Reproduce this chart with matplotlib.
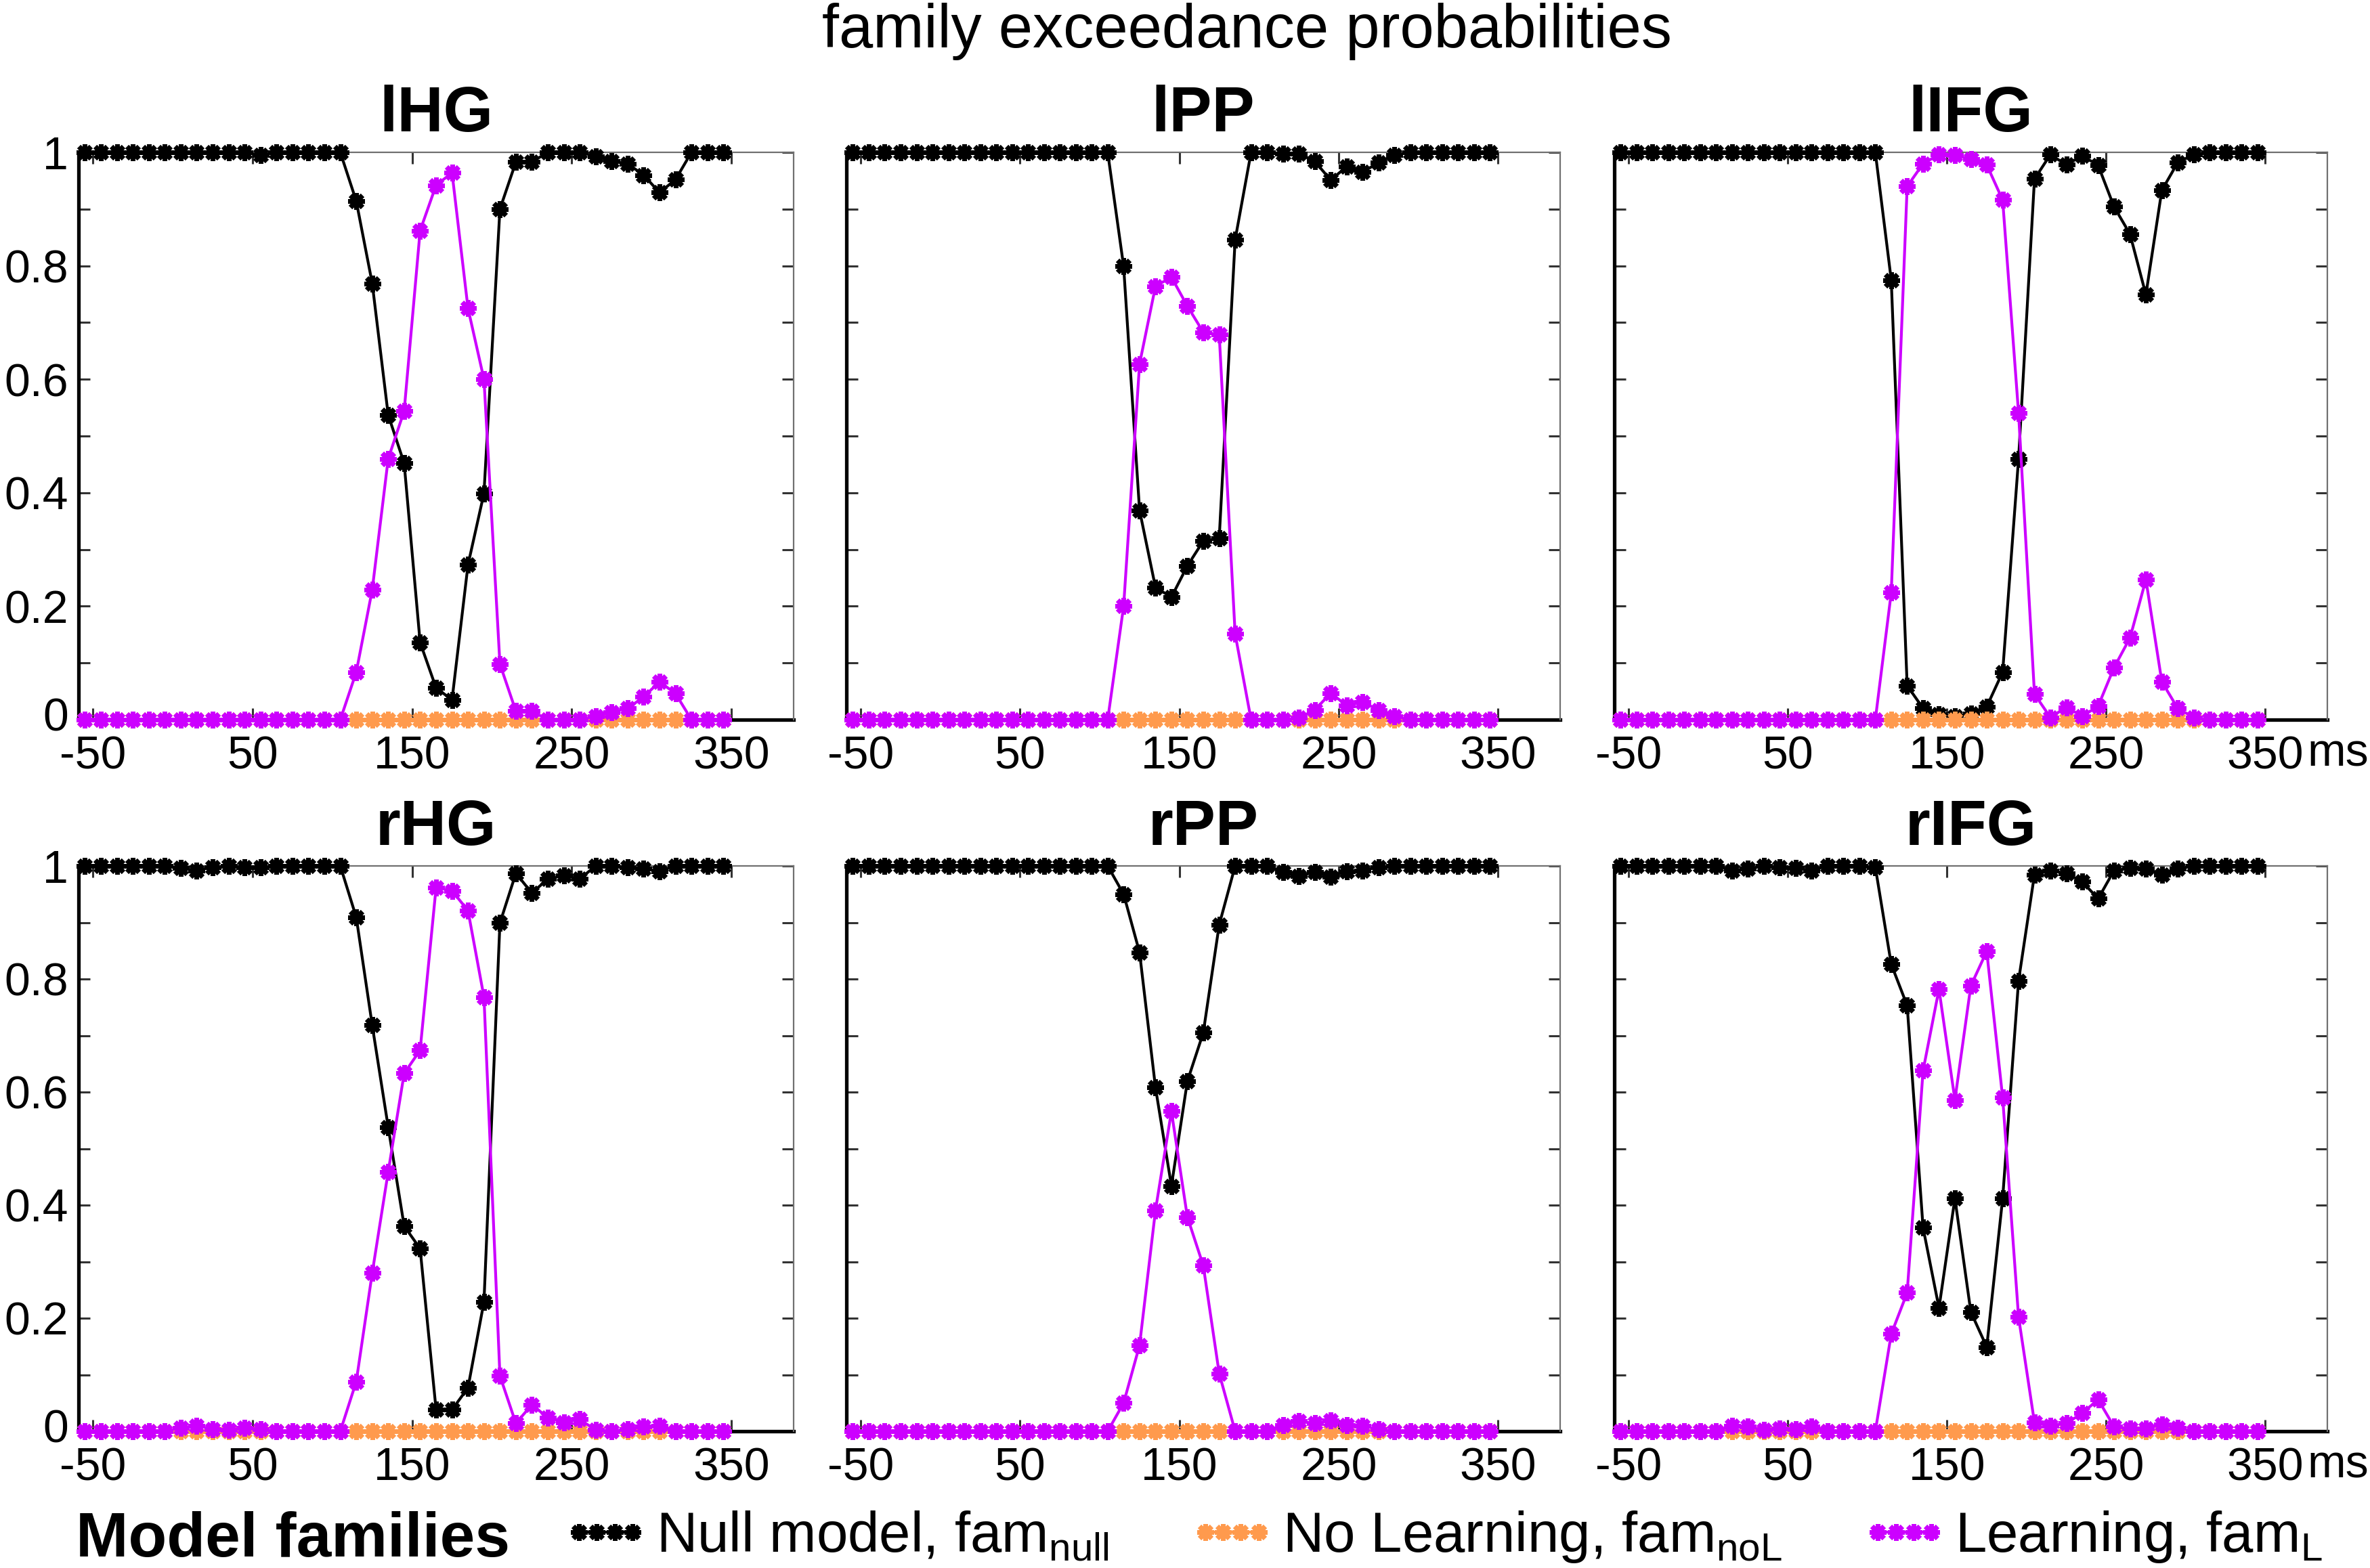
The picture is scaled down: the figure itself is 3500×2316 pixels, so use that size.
import matplotlib
matplotlib.use('Agg')
import matplotlib.pyplot as plt
from matplotlib.lines import Line2D
from matplotlib.transforms import ScaledTranslation

plt.rcParams['font.family'] = ['Liberation Sans', 'DejaVu Sans']
plt.rcParams['mathtext.fontset'] = 'custom'
plt.rcParams['mathtext.rm'] = 'Liberation Sans'
plt.rcParams['mathtext.it'] = 'Liberation Sans:italic'
plt.rcParams['mathtext.bf'] = 'Liberation Sans:bold'

# ---------------- data ----------------
time_ms = [-55, -45, -35, -25, -15, -5, 5, 15, 25, 35, 45, 55, 65, 75, 85, 95,
           105, 115, 125, 135, 145, 155, 165, 175, 185, 195, 205, 215, 225, 235,
           245, 255, 265, 275, 285, 295, 305, 315, 325, 335, 345]

regions = ['lHG', 'lPP', 'lIFG', 'rHG', 'rPP', 'rIFG']

# Null model family
null_lHG = [1, 1, 1, 1, 1, 1, 1, 1, 1, 1, 1, 0.995, 1, 1, 1, 1, 1,
            0.914, 0.769, 0.537, 0.452, 0.136, 0.056, 0.035, 0.273, 0.399, 0.900,
            0.983, 0.983, 1, 1, 1, 0.993, 0.985, 0.98, 0.96, 0.929, 0.952, 1, 1, 1]
null_lPP = [1, 1, 1, 1, 1, 1, 1, 1, 1, 1, 1, 1, 1, 1, 1, 1, 1,
            0.799, 0.369, 0.233, 0.216, 0.271, 0.315, 0.32, 0.846, 1, 1,
            0.998, 0.998, 0.984, 0.951, 0.975, 0.965, 0.982, 0.995, 1, 1, 1, 1, 1, 1]
null_lIFG = [1, 1, 1, 1, 1, 1, 1, 1, 1, 1, 1, 1, 1, 1, 1, 1, 1,
             0.775, 0.06, 0.02, 0.009, 0.006, 0.011, 0.023, 0.084, 0.46, 0.953,
             0.996, 0.978, 0.994, 0.977, 0.904, 0.856, 0.749, 0.933, 0.982, 0.996,
             1, 1, 1, 1]
null_rHG = [1, 1, 1, 1, 1, 1, 0.996, 0.992, 0.998, 1, 0.998, 0.998, 1, 1, 1, 1, 1,
            0.909, 0.718, 0.538, 0.363, 0.323, 0.038, 0.038, 0.077, 0.229, 0.899,
            0.987, 0.952, 0.977, 0.983, 0.977, 1, 1, 0.998, 0.995, 0.991, 1, 1, 1, 1]
null_rPP = [1, 1, 1, 1, 1, 1, 1, 1, 1, 1, 1, 1, 1, 1, 1, 1, 1,
            0.95, 0.847, 0.608, 0.434, 0.619, 0.705, 0.896, 1, 1, 1,
            0.989, 0.982, 0.989, 0.981, 0.991, 0.992, 0.998, 1, 1, 1, 1, 1, 1, 1]
null_rIFG = [1, 1, 1, 1, 1, 1, 1, 0.992, 0.995, 1, 0.998, 0.996, 0.992, 1, 1, 1, 0.998,
             0.826, 0.753, 0.36, 0.218, 0.412, 0.211, 0.149, 0.412, 0.797, 0.985,
             0.992, 0.987, 0.972, 0.942, 0.992, 0.996, 0.995, 0.985, 0.995,
             1, 1, 1, 1, 1]

# No Learning family (zero throughout)
noL_all = [0, 0, 0, 0, 0, 0, 0, 0, 0, 0, 0, 0, 0, 0, 0, 0, 0, 0, 0, 0, 0,
           0, 0, 0, 0, 0, 0, 0, 0, 0, 0, 0, 0, 0, 0, 0, 0, 0, 0, 0, 0]

# Learning family
L_lHG = [0, 0, 0, 0, 0, 0, 0, 0, 0, 0, 0, 0, 0, 0, 0, 0, 0,
         0.084, 0.229, 0.46, 0.544, 0.862, 0.942, 0.964, 0.725, 0.60, 0.098,
         0.015, 0.015, 0, 0, 0, 0.006, 0.013, 0.02, 0.04, 0.067, 0.046, 0, 0, 0]
L_lPP = [0, 0, 0, 0, 0, 0, 0, 0, 0, 0, 0, 0, 0, 0, 0, 0, 0,
         0.20, 0.627, 0.764, 0.78, 0.729, 0.683, 0.679, 0.151, 0, 0,
         0, 0.003, 0.017, 0.047, 0.025, 0.031, 0.017, 0.006, 0, 0, 0, 0, 0, 0]
L_lIFG = [0, 0, 0, 0, 0, 0, 0, 0, 0, 0, 0, 0, 0, 0, 0, 0, 0,
          0.224, 0.94, 0.98, 0.996, 0.995, 0.988, 0.978, 0.916, 0.54, 0.045,
          0.004, 0.022, 0.006, 0.024, 0.092, 0.144, 0.247, 0.067, 0.02, 0.004,
          0, 0, 0, 0]
L_rHG = [0, 0, 0, 0, 0, 0, 0.006, 0.01, 0.004, 0.002, 0.006, 0.004, 0, 0, 0, 0, 0,
         0.088, 0.28, 0.459, 0.633, 0.674, 0.962, 0.956, 0.921, 0.768, 0.098,
         0.014, 0.047, 0.024, 0.016, 0.021, 0.002, 0, 0.004, 0.008, 0.01, 0, 0, 0, 0]
L_rPP = [0, 0, 0, 0, 0, 0, 0, 0, 0, 0, 0, 0, 0, 0, 0, 0, 0,
         0.05, 0.152, 0.391, 0.566, 0.379, 0.293, 0.102, 0, 0, 0,
         0.011, 0.018, 0.014, 0.019, 0.011, 0.009, 0.004, 0, 0, 0, 0, 0, 0, 0]
L_rIFG = [0, 0, 0, 0, 0, 0, 0, 0.01, 0.008, 0.002, 0.005, 0.004, 0.008, 0, 0, 0, 0,
          0.172, 0.245, 0.638, 0.782, 0.586, 0.788, 0.849, 0.59, 0.202, 0.015,
          0.01, 0.014, 0.032, 0.056, 0.008, 0.005, 0.005, 0.012, 0.006,
          0, 0, 0, 0, 0]

null_series = [null_lHG, null_lPP, null_lIFG, null_rHG, null_rPP, null_rIFG]
L_series = [L_lHG, L_lPP, L_lIFG, L_rHG, L_rPP, L_rIFG]

x_ticks = [-50, 50, 150, 250, 350]
y_major = [0, 0.2, 0.4, 0.6, 0.8, 1]
y_major_labels = ['0', '0.2', '0.4', '0.6', '0.8', '1']
y_minor = [0.1, 0.3, 0.5, 0.7, 0.9]

legend_labels = [r'Null model, fam$_{\mathrm{null}}$',
                 r'No Learning, fam$_{\mathrm{noL}}$',
                 r'Learning, fam$_{\mathrm{L}}$']

# ---------------- style ----------------
C_NULL = '#000000'
C_NOL = '#FF9A4D'
C_L = '#CC00FF'
MARK = (8, 2, 0)
LW = 3.0
MS = 18
MEW = 5.0
TICK_FS = 49
TITLE_FS = 68

W, H = 3500, 2316
fig = plt.figure(figsize=(W / 100, H / 100), dpi=100)

col_px = [(116, 1172), (1250, 2304), (2384, 3437)]
row_px = [(225, 1063), (1279, 2114)]

axes = []
for r in range(2):
    for c in range(3):
        l, rr = col_px[c]
        t, b = row_px[r]
        ax = fig.add_axes([l / W, 1 - b / H, (rr - l) / W, (b - t) / H])
        axes.append(ax)

for k, ax in enumerate(axes):
    kw = dict(lw=LW, marker=MARK, ms=MS, mew=MEW, clip_on=False)
    ax.plot(time_ms, null_series[k], color=C_NULL, zorder=3, **kw)
    ax.plot(time_ms, noL_all, color=C_NOL, zorder=4, **kw)
    ax.plot(time_ms, L_series[k], color=C_L, zorder=5, **kw)
    ax.set_xlim(-59, 389)
    ax.set_ylim(0, 1)
    ax.set_xticks(x_ticks)
    ax.set_xticklabels([str(v) for v in x_ticks])
    ax.set_yticks(y_major)
    ax.set_yticks(y_minor, minor=True)
    if k % 3 == 0:
        ax.set_yticklabels(y_major_labels)
    else:
        ax.set_yticklabels([])
    ax.tick_params(which='both', direction='in', top=True, right=True,
                   length=12, width=2.2, labelsize=TICK_FS, color='#333333')
    ax.tick_params(axis='x', pad=16)
    ax.tick_params(axis='y', pad=11)
    if k % 3 == 0:
        # lift the "0" label slightly, as in the reference
        t0 = ax.yaxis.get_major_ticks()[0]
        t0.label1.set_transform(t0.label1.get_transform() +
                                ScaledTranslation(0, 6 / 72, fig.dpi_scale_trans))
    for s in ['left', 'bottom']:
        ax.spines[s].set_linewidth(3.8)
        ax.spines[s].set_color('black')
        ax.spines[s].set_zorder(2)
    for s in ['top', 'right']:
        ax.spines[s].set_linewidth(1.6)
        ax.spines[s].set_color('#707070')
    ax.set_title(regions[k], fontsize=TITLE_FS, fontweight='bold', pad=22)
    if k % 3 == 2:
        ax.annotate('ms', xy=(350, 0), xycoords=('data', 'axes fraction'),
                    xytext=(45, -13), textcoords='offset points',
                    ha='left', va='top', fontsize=TICK_FS)

fig.text(1841 / W, 1 - 70 / H, 'family exceedance probabilities',
         ha='center', va='baseline', fontsize=65)

fig.text(112 / W, 1 - 2299 / H, 'Model families', ha='left', va='baseline',
         fontsize=67, fontweight='bold')

handles = [Line2D([0], [0], color=c, lw=LW, marker=MARK, ms=MS, mew=MEW)
           for c in (C_NULL, C_NOL, C_L)]
fig.legend(handles, legend_labels, loc='center left',
           bbox_to_anchor=(830 / W, 1 - 2270 / H), ncol=3, frameon=False,
           fontsize=60, numpoints=4, handlelength=1.55, handletextpad=0.12,
           columnspacing=1.4, borderpad=0, borderaxespad=0)

fig.savefig('out.png', dpi=100, facecolor='white')
